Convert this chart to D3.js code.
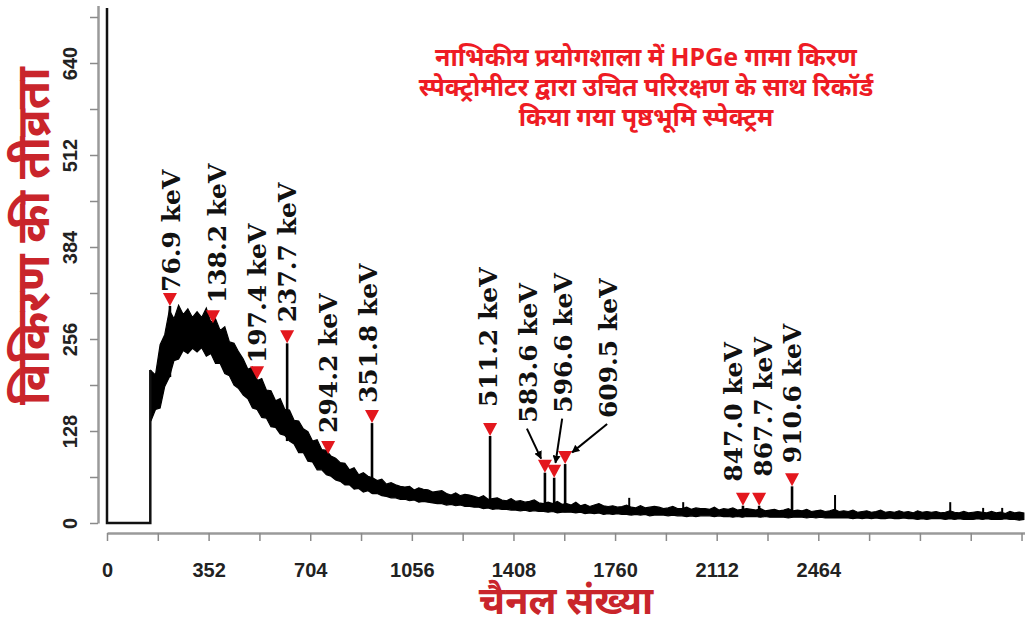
<!DOCTYPE html>
<html>
<head>
<meta charset="utf-8">
<script src="https://cdn.jsdelivr.net/npm/d3@7"></script>
<style>
  body { margin: 0; background: #fff; }
  svg { display: block; }
</style>
</head>
<body>
<svg id="chart" width="1025" height="631"></svg>
<script>

// spectrum envelope, one value per 16-channel bin starting at channel 152
var binStart = 152, binStep = 16;

var binHigh = [
  212, 206, 248, 262, 296, 284, 303, 290, 298, 286,
  294, 286, 299, 279, 284, 268, 273, 252, 250, 238,
  228, 214, 217, 198, 201, 185, 184, 170, 173, 158,
  157, 143, 142, 131, 127, 114, 116, 102, 101, 93,
  90, 84, 83, 74, 77, 67, 70, 65, 63, 59,
  61, 54, 56, 53, 51, 50, 51, 46, 49, 47,
  46, 43, 44, 45, 41, 39, 42, 38, 40, 39,
  37, 35, 38, 33, 34, 35, 32, 31, 34, 30,
  31, 29, 30, 32, 28, 27, 29, 27, 30, 26,
  27, 25, 29, 24, 26, 23, 25, 27, 24, 23,
  24, 22, 23, 25, 22, 21, 24, 21, 22, 23,
  22, 20, 21, 23, 20, 20, 22, 19, 21, 20,
  20, 19, 22, 18, 20, 19, 21, 18, 19, 20,
  19, 18, 20, 17, 18, 19, 17, 18, 20, 17,
  18, 17, 19, 16, 17, 18, 16, 17, 19, 16,
  17, 16, 18, 15, 16, 17, 15, 16, 18, 15,
  16, 15, 17, 15, 16, 14, 17, 15, 16, 15,
  16, 14, 15, 17, 15, 14, 16, 14, 15, 16,
  15, 14, 16, 14, 15, 13, 16, 14, 15, 14
];

var binLow = [
  142, 158, 160, 190, 203, 226, 228, 240, 236, 243,
  238, 244, 232, 236, 222, 222, 208, 205, 192, 187,
  178, 173, 160, 158, 147, 146, 134, 133, 124, 122,
  114, 110, 98, 98, 86, 85, 74, 74, 67, 65,
  60, 58, 53, 53, 47, 48, 43, 45, 41, 41,
  38, 37, 35, 35, 33, 33, 31, 32, 29, 30,
  29, 28, 27, 27, 25, 26, 24, 25, 23, 23,
  22, 22, 20, 21, 19, 20, 19, 19, 18, 18,
  17, 18, 16, 17, 16, 16, 15, 16, 14, 15,
  15, 15, 14, 15, 13, 14, 13, 14, 12, 13,
  12, 13, 12, 12, 11, 12, 11, 12, 10, 11,
  11, 11, 10, 11, 10, 10, 9, 10, 9, 10,
  10, 10, 9, 10, 9, 9, 8, 9, 8, 9,
  9, 9, 8, 9, 8, 8, 8, 8, 7, 8,
  8, 8, 7, 8, 7, 8, 7, 7, 7, 7,
  7, 7, 6, 7, 6, 7, 6, 7, 6, 6,
  7, 6, 6, 7, 6, 6, 5, 6, 5, 6,
  6, 6, 5, 6, 5, 6, 5, 5, 5, 6,
  5, 6, 5, 5, 5, 6, 5, 5, 4, 5
];

// first channels: overflow in channel 0, empty until the threshold
var startCh = [0, 0, 150, 150];
var startCounts = [760, 0, 0, 213];

// identified peaks
var peakNames = ["76.9 keV", "138.2 keV", "197.4 keV", "237.7 keV", "294.2 keV", "351.8 keV",
  "511.2 keV", "583.6 keV", "596.6 keV", "609.5 keV", "847.0 keV", "867.7 keV", "910.6 keV"];
var peakCh = [218, 367, 520, 624, 766, 918, 1327, 1517, 1549, 1587, 2203, 2259, 2373];
var peakTop = [302, 278, 200, 250, 96, 139, 121, 70, 63, 82, 24, 24, 51];

// small unlabelled lines
var spikeCh = [1809, 1996, 2522, 2921, 3035, 3101];
var spikeTop = [35, 29, 39, 29, 21, 21];

var xTicks = d3.range(0, 3180, 176);
var xLabels = [0, 352, 704, 1056, 1408, 1760, 2112, 2464];
var yTicks = d3.range(0, 705, 64);
var yLabels = [0, 128, 256, 384, 512, 640];

var titleLines = ["नाभिकीय प्रयोगशाला में HPGe गामा किरण",
  "स्पेक्ट्रोमीटर द्वारा उचित परिरक्षण के साथ रिकॉर्ड",
  "किया गया पृष्ठभूमि स्पेक्ट्रम"];
var xTitle = "चैनल संख्या";
var yTitle = "विकिरण की तीव्रता";

// label placement relative to each marker (layout only)
var labelDx = [10, 13, 9, 9, 9, 5, 7, -8, 18, 52, -1, 13, 9];
var labelDy = [-8, -14, -10, -15, -15, -14, -23, -44, -59, -40, -18, -23, -17];
var arrowed = [7, 8, 9];

var svg = d3.select("#chart");

var x = d3.scaleLinear().domain([0, 3180]).range([107, 1025]);
var y = d3.scaleLinear().domain([0, 720]).range([523, 5.5]);

var devFont = "'Noto Sans Devanagari', 'Lohit Devanagari', 'Noto Sans', sans-serif";
var numFont = "'Liberation Sans', Arial, sans-serif";
var peakFont = "'DejaVu Serif', serif";

svg.append("defs").append("clipPath").attr("id", "plot")
  .append("rect").attr("x", 100).attr("y", 8).attr("width", 925).attr("height", 522);

svg.select("defs").append("marker")
    .attr("id", "arrow")
    .attr("viewBox", "0 0 10 10")
    .attr("refX", 9).attr("refY", 5)
    .attr("markerWidth", 4).attr("markerHeight", 4)
    .attr("orient", "auto")
  .append("path")
    .attr("d", "M0,0L10,5L0,10Z")
    .attr("fill", "#000");

// axes
var xAxis = svg.append("g")
    .attr("transform", "translate(0,533)")
    .call(d3.axisBottom(x).tickValues(xTicks).tickSize(8).tickSizeOuter(0)
      .tickFormat(function(d) { return xLabels.indexOf(d) >= 0 ? d : ""; }));
xAxis.select(".domain").attr("stroke", "#9a9a9a").attr("stroke-width", 2.5);
xAxis.selectAll(".tick line").attr("stroke", "#8a8a8a").attr("stroke-width", 1.5);
xAxis.selectAll(".tick text")
    .attr("y", 30)
    .attr("font-family", numFont)
    .attr("font-weight", "bold")
    .attr("font-size", "20px")
    .attr("fill", "#222");

var yAxis = svg.append("g")
    .attr("transform", "translate(98,0)")
    .call(d3.axisLeft(y).tickValues(yTicks).tickSize(8).tickSizeOuter(0)
      .tickFormat(function(d) { return yLabels.indexOf(d) >= 0 ? d : ""; }));
yAxis.select(".domain").attr("stroke", "#9a9a9a").attr("stroke-width", 2.5);
yAxis.selectAll(".tick line").attr("stroke", "#8a8a8a").attr("stroke-width", 1.5);
yAxis.selectAll(".tick text")
    .attr("x", 0)
    .attr("y", -21)
    .attr("dy", 0)
    .attr("transform", "rotate(-90)")
    .attr("text-anchor", "middle")
    .attr("font-family", numFont)
    .attr("font-weight", "bold")
    .attr("font-size", "20px")
    .attr("fill", "#222");

// spectrum
var plot = svg.append("g").attr("clip-path", "url(#plot)");

var binCh = binHigh.map(function(d, i) { return binStart + i * binStep; });

var band = d3.area()
    .x(function(d, i) { return x(binCh[i]); })
    .y0(function(d, i) { return y(binLow[i]); })
    .y1(function(d) { return y(d); });

plot.append("path")
    .datum(binHigh)
    .attr("d", band)
    .attr("fill", "#000")
    .attr("stroke", "#000")
    .attr("stroke-width", 1.2)
    .attr("stroke-linejoin", "miter");

plot.append("path")
    .datum(startCh)
    .attr("d", d3.line()
      .x(function(d) { return x(d); })
      .y(function(d, i) { return y(startCounts[i]); }))
    .attr("fill", "none")
    .attr("stroke", "#111")
    .attr("stroke-width", 2.5);

function lowAt(ch) {
  var i = Math.max(0, Math.min(binLow.length - 1, Math.round((ch - binStart) / binStep)));
  return binLow[i];
}

plot.selectAll(".spike")
  .data(spikeCh)
  .enter().append("line")
    .attr("class", "spike")
    .attr("x1", function(d) { return x(d); })
    .attr("x2", function(d) { return x(d); })
    .attr("y1", function(d, i) { return y(spikeTop[i]); })
    .attr("y2", function(d) { return y(lowAt(d)); })
    .attr("stroke", "#000")
    .attr("stroke-width", 2);

plot.selectAll(".peak")
  .data(peakCh)
  .enter().append("line")
    .attr("class", "peak")
    .attr("x1", function(d) { return x(d); })
    .attr("x2", function(d) { return x(d); })
    .attr("y1", function(d, i) { return y(peakTop[i]); })
    .attr("y2", function(d) { return y(lowAt(d)); })
    .attr("stroke", "#000")
    .attr("stroke-width", 2.6);

// markers
svg.selectAll(".marker")
  .data(peakCh)
  .enter().append("path")
    .attr("class", "marker")
    .attr("transform", function(d, i) { return "translate(" + x(d) + "," + y(peakTop[i]) + ")"; })
    .attr("d", "M-7,-13L7,-13L0,0Z")
    .attr("fill", "#e3171d");

// arrows for the crowded labels
arrowed.forEach(function(i) {
  var tx = x(peakCh[i]), ty = y(peakTop[i]) - 6;
  var sx = tx + labelDx[i] - 10, sy = ty + labelDy[i] + 6;
  var vx = sx - tx, vy = sy - ty, n = Math.sqrt(vx * vx + vy * vy);
  svg.append("line")
    .attr("x1", sx).attr("y1", sy)
    .attr("x2", tx + vx / n * 9).attr("y2", ty + vy / n * 9)
    .attr("stroke", "#000")
    .attr("stroke-width", 2)
    .attr("marker-end", "url(#arrow)");
});

// peak labels
svg.selectAll(".plabel")
  .data(peakNames)
  .enter().append("text")
    .attr("class", "plabel")
    .attr("transform", function(d, i) {
      var px = x(peakCh[i]) + labelDx[i], py = y(peakTop[i]) - 6 + labelDy[i];
      return "translate(" + px + "," + py + ") rotate(-90)";
    })
    .attr("font-family", peakFont)
    .attr("font-weight", "bold")
    .attr("font-size", "25px")
    .attr("fill", "#111")
    .text(function(d) { return d; });

// titles
svg.append("text")
    .attr("transform", "translate(49,236) rotate(-90)")
    .attr("text-anchor", "middle")
    .attr("font-family", devFont)
    .attr("font-weight", "bold")
    .attr("font-size", "46px")
    .attr("fill", "#c9252b")
    .text(yTitle);

svg.append("text")
    .attr("x", 566)
    .attr("y", 614)
    .attr("text-anchor", "middle")
    .attr("font-family", devFont)
    .attr("font-weight", "bold")
    .attr("font-size", "38px")
    .attr("fill", "#c9252b")
    .text(xTitle);

svg.append("text")
    .attr("text-anchor", "middle")
    .attr("font-family", devFont)
    .attr("font-weight", "bold")
    .attr("font-size", "25px")
    .attr("fill", "#ee1c24")
  .selectAll("tspan")
  .data(titleLines)
  .enter().append("tspan")
    .attr("x", 646)
    .attr("y", function(d, i) { return 66 + i * 30; })
    .text(function(d) { return d; });

</script>
</body>
</html>
